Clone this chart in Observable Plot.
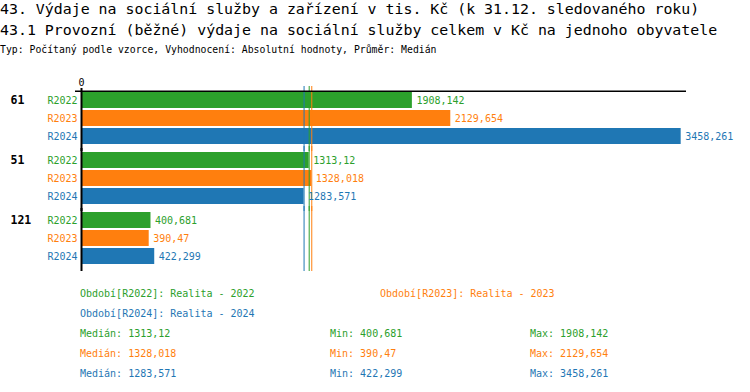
<!DOCTYPE html>
<html><head><meta charset="utf-8">
<script src="https://cdn.jsdelivr.net/npm/d3@7"></script>
<script src="https://cdn.jsdelivr.net/npm/@observablehq/plot@0.6"></script>
<style>
body{margin:0;background:#fff;font-family:"DejaVu Sans Mono",monospace;}
#wrap{position:relative;width:750px;height:392px;overflow:hidden;background:#fff}
.t{position:absolute;white-space:nowrap;}
#chart{position:absolute;left:0;top:60px;}
</style></head><body><div id="wrap">
<div class="t" id="t1" style="left:0;top:0;font-size:14.9px;line-height:18px;color:#000"></div>
<div class="t" id="t2" style="left:0;top:21px;font-size:14.9px;line-height:18px;color:#000"></div>
<div class="t" id="t3" style="left:0;top:44px;font-size:9.8px;line-height:12px;color:#000"></div>
<div id="chart"></div>
<div id="legend"></div>
</div>
<script>
const title1 = "43. Výdaje na sociální služby a zařízení v tis. Kč (k 31.12. sledovaného roku)";
const title2 = "43.1 Provozní (běžné) výdaje na sociální služby celkem v Kč na jednoho obyvatele";
const subtitle = "Typ: Počítaný podle vzorce, Vyhodnocení: Absolutní hodnoty, Průměr: Medián";
const groups = ["61", "51", "121"];
const series = ["R2022", "R2023", "R2024"];
const seriesNames = ["Realita - 2022", "Realita - 2023", "Realita - 2024"];
const colors = ["#2ca02c", "#ff7f0e", "#1f77b4"];
const v2022 = [1908.142, 1313.12, 400.681];
const v2023 = [2129.654, 1328.018, 390.47];
const v2024 = [3458.261, 1283.571, 422.299];
const xTicks = [0];
const xMax = 3489;

document.getElementById("t1").textContent = title1;
document.getElementById("t2").textContent = title2;
document.getElementById("t3").textContent = subtitle;

const vals = [v2022, v2023, v2024];
const rows = [];
groups.forEach((g, gi) => series.forEach((s, si) => rows.push({g, s, v: vals[si][gi]})));
const stats = series.map((s, i) => ({s, m: d3.median(vals[i]), min: d3.min(vals[i]), max: d3.max(vals[i])}));
const fmt = v => String(v).replace(".", ",");

const chart = Plot.plot({
  width: 750, height: 220,
  marginTop: 31, marginBottom: 15, marginLeft: 81, marginRight: 64,
  style: {fontFamily: "DejaVu Sans Mono", fontSize: "10px", background: "white", overflow: "visible"},
  x: {domain: [0, xMax], axis: "top", ticks: xTicks, tickSize: 0, tickPadding: 6, label: null, tickFormat: d => String(d)},
  y: {domain: series, axis: null, paddingInner: 2/18, paddingOuter: 1/18, round: false},
  fy: {domain: groups, axis: null, paddingInner: 0.1, paddingOuter: 0, round: false},
  color: {domain: series, range: colors},
  marks: [
    Plot.barX(rows, {x: "v", y: "s", fy: "g", fill: "s"}),
    Plot.ruleX(stats, {x: "m", stroke: "s", strokeWidth: 1, insetTop: -5, insetBottom: -6}),
    Plot.ruleX(xTicks, {stroke: "black", strokeWidth: 2, insetTop: -3, insetBottom: -6}),
    Plot.barX([{g: groups[0], s: series[0]}], {x1: 0, x2: xMax, y: "s", fy: "g", fill: "black", insetTop: -1.5, insetBottom: 16, insetLeft: -6}),
    Plot.text(rows, {x: "v", y: "s", fy: "g", text: d => fmt(d.v), fill: "s", dx: 4, textAnchor: "start"}),
    Plot.text(rows, {y: "s", fy: "g", text: "s", fill: "s", frameAnchor: "left", dx: -4, textAnchor: "end"}),
    Plot.text(rows.filter(d => d.s === series[0]), {y: "s", fy: "g", text: "g", frameAnchor: "left", dx: -71, textAnchor: "start", fontWeight: "bold", fontSize: 11.5, fill: "black"})
  ]
});
document.getElementById("chart").appendChild(chart);

// legend
const leg = document.getElementById("legend");
function addText(txt, x, yc, color) {
  const d = document.createElement("div");
  d.className = "t";
  d.style.cssText = `left:${x}px;top:${yc - 7}px;font-size:10px;line-height:14px;color:${color}`;
  d.textContent = txt;
  leg.appendChild(d);
}
const legPos = [[80, 294], [380, 294], [80, 314]];
series.forEach((s, i) => addText(`Období[${s}]: ${seriesNames[i]}`, legPos[i][0], legPos[i][1], colors[i]));
stats.forEach((st, i) => {
  const y = 334 + i * 20;
  addText(`Medián: ${fmt(st.m)}`, 80, y, colors[i]);
  addText(`Min: ${fmt(st.min)}`, 330, y, colors[i]);
  addText(`Max: ${fmt(st.max)}`, 530, y, colors[i]);
});
</script>
</body></html>
